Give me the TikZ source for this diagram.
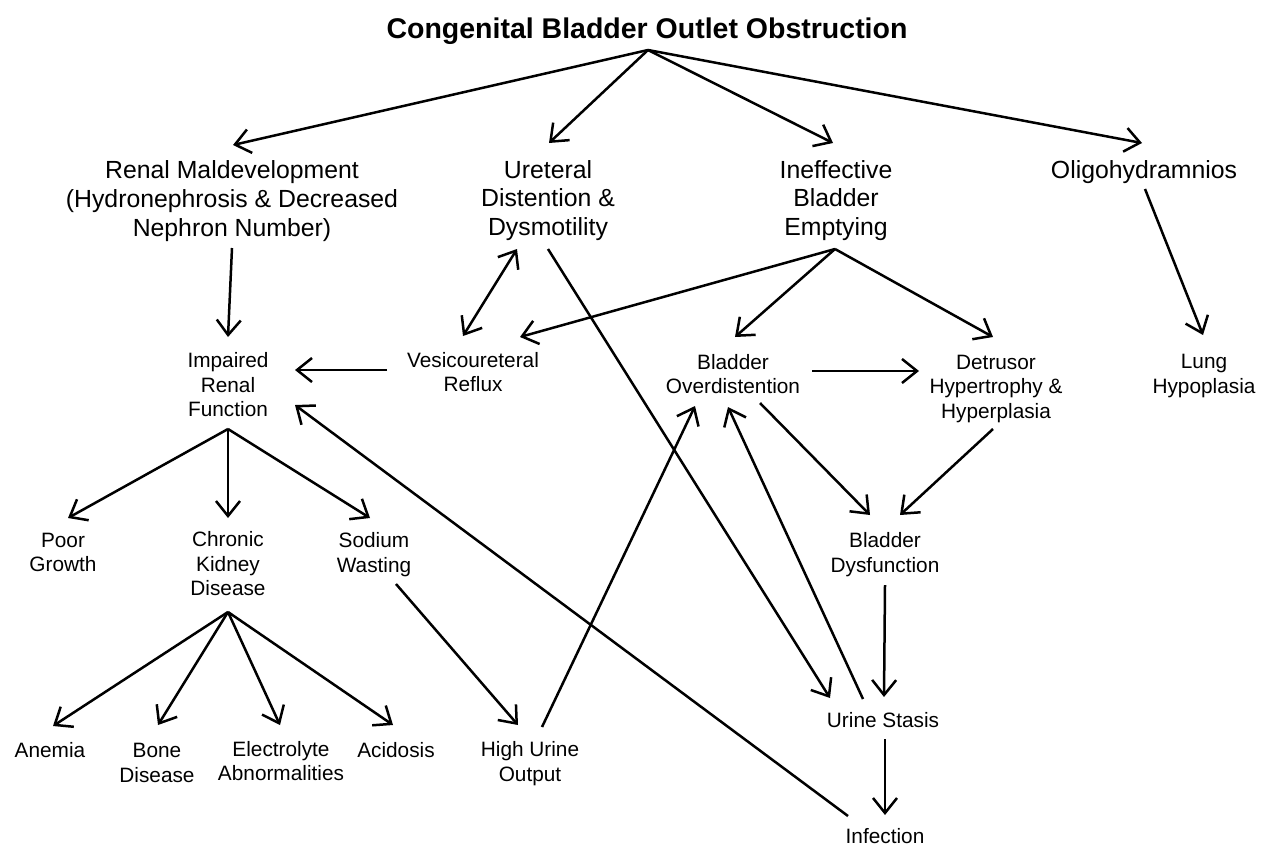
\documentclass[tikz,border=0pt]{standalone}
\usepackage{fontspec}
\setmainfont{Liberation Sans}
\usetikzlibrary{arrows.meta}
\tikzset{
  lvltitle/.style={font=\fontsize{28.5}{34}\selectfont\bfseries, inner sep=0pt},
  lvlone/.style={font=\fontsize{24.8}{28.7}\selectfont, align=center, inner sep=0pt},
  lvltwo/.style={font=\fontsize{20.8}{24.5}\selectfont, align=center, inner sep=0pt},
  conn/.style={line width=2.5pt, -{Straight Barb[length=15pt,width=24pt]}},
  dconn/.style={line width=2.5pt, {Straight Barb[length=15pt,width=24pt]}-{Straight Barb[length=15pt,width=24pt]}},
}
\begin{document}
\begin{tikzpicture}[x=1pt,y=-1pt]
\useasboundingbox (0,0) rectangle (1265,847);
% nodes
\node[lvltitle] (title) at (647,31) {Congenital Bladder Outlet Obstruction};
\node[lvlone] (renal) at (232,201) {Renal Maldevelopment\\(Hydronephrosis \& Decreased\\Nephron Number)};
\node[lvlone] (ureter) at (548,200.5) {Ureteral\\Distention \&\\Dysmotility};
\node[lvlone] (ineff) at (836,200.5) {Ineffective\\Bladder\\Emptying};
\node[lvlone] (oligo) at (1144,172) {Oligohydramnios};
\node[lvltwo] (impaired) at (228,385) {Impaired\\Renal\\Function};
\node[lvltwo] (vesico) at (473,372) {Vesicoureteral\\Reflux};
\node[lvltwo] (overd) at (733,374) {Bladder\\Overdistention};
\node[lvltwo] (detrusor) at (996,388.5) {Detrusor\\Hypertrophy \&\\Hyperplasia};
\node[lvltwo] (lung) at (1204,376) {Lung\\Hypoplasia};
\node[lvltwo] (poor) at (63,552.5) {Poor\\Growth};
\node[lvltwo] (ckd) at (228,564) {Chronic\\Kidney\\Disease};
\node[lvltwo] (sodium) at (374,554.5) {Sodium\\Wasting};
\node[lvltwo] (dysf) at (885,554.5) {Bladder\\Dysfunction};
\node[lvltwo] (anemia) at (50,750) {Anemia};
\node[lvltwo] (bone) at (157,763) {Bone\\Disease};
\node[lvltwo] (electro) at (281,761) {Electrolyte\\Abnormalities};
\node[lvltwo] (acid) at (396,750) {Acidosis};
\node[lvltwo] (high) at (530,763.5) {High Urine\\Output};
\node[lvltwo] (stasis) at (883,720) {Urine Stasis};
\node[lvltwo] (infection) at (885,836) {Infection};
% connectors from title
\draw[conn] ([shift={(1,19)}]title.center) -- ([shift={(1,-56)}]renal.center);
\draw[conn] ([shift={(1,19)}]title.center) -- ([shift={(1,-57.5)}]ureter.center);
\draw[conn] ([shift={(1,19)}]title.center) -- ([shift={(-3,-57.5)}]ineff.center);
\draw[conn] ([shift={(1,19)}]title.center) -- ([shift={(-2,-29)}]oligo.center);
% level 1 to level 2
\draw[conn] ([shift={(0,47)}]renal.center) -- ([shift={(0,-48)}]impaired.center);
\draw[conn] ([shift={(-86,-2)}]vesico.center) -- ([shift={(67,-15)}]impaired.center);
\draw[dconn] ([shift={(-31,48.5)}]ureter.center) -- ([shift={(-10,-36)}]vesico.center);
\draw[conn] ([shift={(-1,48.5)}]ineff.center) -- ([shift={(47,-35)}]vesico.center);
\draw[conn] ([shift={(-1,48.5)}]ineff.center) -- ([shift={(2,-37)}]overd.center);
\draw[conn] ([shift={(-1,48.5)}]ineff.center) -- ([shift={(-3,-51.5)}]detrusor.center);
\draw[conn] ([shift={(1,17)}]oligo.center) -- ([shift={(-1,-41)}]lung.center);
\draw[conn] ([shift={(79,-3)}]overd.center) -- ([shift={(-77,-17.5)}]detrusor.center);
% impaired renal function
\draw[conn] ([shift={(0,44)}]impaired.center) -- ([shift={(5,-34.5)}]poor.center);
\draw[conn] ([shift={(0,44)}]impaired.center) -- ([shift={(0,-46)}]ckd.center);
\draw[conn] ([shift={(0,44)}]impaired.center) -- ([shift={(-4,-36.5)}]sodium.center);
\draw[conn] ([shift={(-37,-20)}]infection.center) -- ([shift={(67,20)}]impaired.center);
% crossing connectors
\draw[conn] ([shift={(0,48.5)}]ureter.center) -- ([shift={(-53,-22)}]stasis.center);
\draw[conn] ([shift={(12,-36.5)}]high.center) -- ([shift={(-38,32)}]overd.center);
\draw[conn] ([shift={(-20,-21)}]stasis.center) -- ([shift={(-5,33)}]overd.center);
\draw[conn] ([shift={(27,29)}]overd.center) -- ([shift={(-15,-39.5)}]dysf.center);
\draw[conn] ([shift={(-3,40.5)}]detrusor.center) -- ([shift={(15,-39.5)}]dysf.center);
% chronic kidney disease
\draw[conn] ([shift={(0,48)}]ckd.center) -- ([shift={(3,-24)}]anemia.center);
\draw[conn] ([shift={(0,48)}]ckd.center) -- ([shift={(1,-38)}]bone.center);
\draw[conn] ([shift={(0,48)}]ckd.center) -- ([shift={(-1,-36)}]electro.center);
\draw[conn] ([shift={(0,48)}]ckd.center) -- ([shift={(-3,-25)}]acid.center);
\draw[conn] ([shift={(22,29.5)}]sodium.center) -- ([shift={(-12,-38.5)}]high.center);
% bladder dysfunction chain
\draw[conn] ([shift={(0,30.5)}]dysf.center) -- ([shift={(1,-23)}]stasis.center);
\draw[conn] ([shift={(2,19)}]stasis.center) -- ([shift={(0,-21)}]infection.center);
\end{tikzpicture}
\end{document}
